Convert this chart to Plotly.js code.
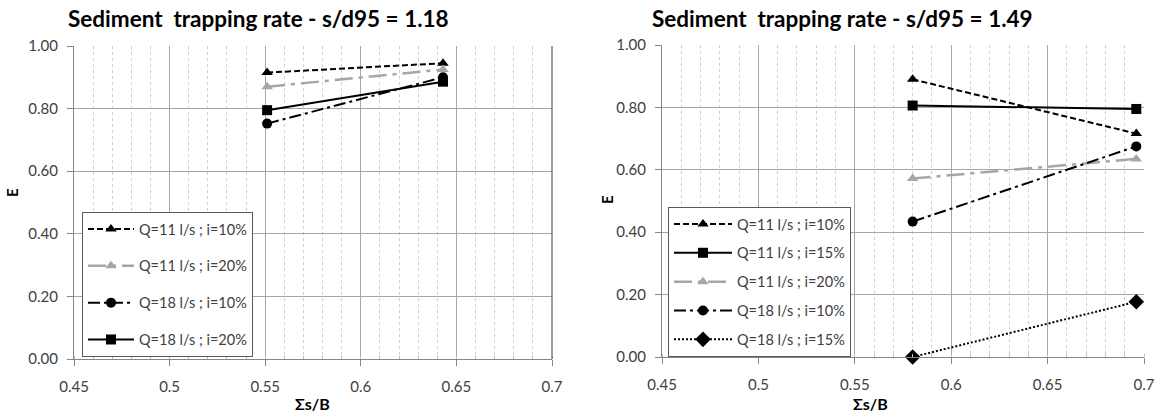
<!DOCTYPE html>
<html>
<head>
<meta charset="utf-8">
<script src="https://cdn.plot.ly/plotly-3.0.1.min.js"></script>
<style>html,body{margin:0;padding:0;background:#fff;}#chart{width:1160px;height:414px;}</style>
</head>
<body>
<div id="chart"></div>
<script>
// ---- Data ----
var leftTitle = "Sediment  trapping rate - s/d95 = 1.18";
var rightTitle = "Sediment  trapping rate - s/d95 = 1.49";
var xTitle = "Σs/B";
var yTitle = "E";

var leftX = [0.551, 0.643];
var leftNames = ["Q=11 l/s ; i=10%", "Q=11 l/s ; i=20%", "Q=18 l/s ; i=10%", "Q=18 l/s ; i=20%"];
var left_Q11_i10 = [0.915, 0.945];
var left_Q11_i20 = [0.870, 0.925];
var left_Q18_i10 = [0.752, 0.900];
var left_Q18_i20 = [0.795, 0.886];

var rightX = [0.580, 0.696];
var rightNames = ["Q=11 l/s ; i=10%", "Q=11 l/s ; i=15%", "Q=11 l/s ; i=20%", "Q=18 l/s ; i=10%", "Q=18 l/s ; i=15%"];
var right_Q11_i10 = [0.890, 0.716];
var right_Q11_i15 = [0.806, 0.795];
var right_Q11_i20 = [0.572, 0.635];
var right_Q18_i10 = [0.434, 0.675];
var right_Q18_i15 = [0.000, 0.177];

// ---- Styles ----
var FONT = "Lato, 'Liberation Sans', sans-serif";
var GREY = "#a6a6a6";
var styles = {
  q11i10: {line: {color: "#000", width: 2, dash: "6px,3px"}, marker: {symbol: "triangle-up", size: 10, color: "#000"}},
  q11i15: {line: {color: "#000", width: 2, dash: "solid"}, marker: {symbol: "square", size: 10, color: "#000"}},
  q11i20: {line: {color: GREY, width: 2.5, dash: "18px,6px,4px,6px"}, marker: {symbol: "triangle-up", size: 10, color: GREY}},
  q18i10: {line: {color: "#000", width: 2, dash: "12px,4px,3px,4px"}, marker: {symbol: "circle", size: 10, color: "#000"}},
  q18i15: {line: {color: "#000", width: 2, dash: "2px,2px"}, marker: {symbol: "diamond", size: 12, color: "#000"}},
  q18i20: {line: {color: "#000", width: 2, dash: "solid"}, marker: {symbol: "square", size: 10, color: "#000"}}
};

function tr(x, y, name, st, xa, ya, leg, grp) {
  return {
    type: "scatter", mode: "lines+markers", x: x, y: y, name: name,
    line: st.line, marker: st.marker, xaxis: xa, yaxis: ya,
    legend: leg, legendgroup: grp, cliponaxis: false, hoverinfo: "skip"
  };
}

var data = [
  tr(leftX, left_Q11_i10, leftNames[0], styles.q11i10, "x", "y", "legend", "l1"),
  tr(leftX, left_Q11_i20, leftNames[1], styles.q11i20, "x", "y", "legend", "l2"),
  tr(leftX, left_Q18_i10, leftNames[2], styles.q18i10, "x", "y", "legend", "l3"),
  tr(leftX, left_Q18_i20, leftNames[3], styles.q18i20, "x", "y", "legend", "l4"),
  tr(rightX, right_Q11_i10, rightNames[0], styles.q11i10, "x2", "y2", "legend2", "r1"),
  tr(rightX, right_Q11_i15, rightNames[1], styles.q11i15, "x2", "y2", "legend2", "r2"),
  tr(rightX, right_Q11_i20, rightNames[2], styles.q11i20, "x2", "y2", "legend2", "r3"),
  tr(rightX, right_Q18_i10, rightNames[3], styles.q18i10, "x2", "y2", "legend2", "r4"),
  tr(rightX, right_Q18_i15, rightNames[4], styles.q18i15, "x2", "y2", "legend2", "r5")
];

function xaxis(domain, anchor) {
  return {
    domain: domain, anchor: anchor, range: [0.45, 0.7], tick0: 0.45, dtick: 0.05,
    ticks: "outside", ticklen: 6, tickcolor: "#868686", ticklabelstandoff: 8,
    showline: true, linecolor: "#868686", linewidth: 1,
    showgrid: true, gridcolor: "#a6a6a6", gridwidth: 1, zeroline: false,
    tickfont: {family: FONT, size: 15, color: "#404040"},
    minor: {dtick: 0.01, showgrid: true, gridcolor: "#cfcfcf", griddash: "3px,3px", gridwidth: 1,
            ticks: "inside", ticklen: 3, tickcolor: "#bdbdbd"},
    fixedrange: true
  };
}
function yaxis(domain, anchor) {
  return {
    domain: domain, anchor: anchor, range: [0, 1], dtick: 0.2, tickformat: ".2f",
    ticks: "outside", ticklen: 6, tickcolor: "#868686", ticklabelstandoff: 6,
    showline: true, linecolor: "#868686", linewidth: 1,
    showgrid: true, gridcolor: "#a6a6a6", gridwidth: 1, zeroline: false,
    tickfont: {family: FONT, size: 15, color: "#404040"},
    fixedrange: true
  };
}

function legendCfg(x, y, gap, itemw) {
  return {
    x: x, y: y, xanchor: "left", yanchor: "top", xref: "paper", yref: "paper",
    bgcolor: "#fff", bordercolor: "#595959", borderwidth: 1,
    font: {family: FONT, size: 14.5, color: "#404040"},
    tracegroupgap: gap, itemwidth: itemw, traceorder: "grouped"
  };
}

var layout = {
  width: 1160, height: 414,
  margin: {l: 0, r: 0, t: 0, b: 0},
  paper_bgcolor: "#fff", plot_bgcolor: "#fff",
  showlegend: true,
  font: {family: FONT},
  xaxis: xaxis([74 / 1160, 552 / 1160], "y"),
  yaxis: yaxis([55 / 414, 368 / 414], "x"),
  xaxis2: xaxis([662 / 1160, 1144 / 1160], "y2"),
  yaxis2: yaxis([57 / 414, 369 / 414], "x2"),
  legend: legendCfg(82 / 1160, 1 - 212 / 414, 15, 46),
  legend2: legendCfg(668 / 1160, 1 - 207 / 414, 7, 58),
  shapes: [
    {type: "line", xref: "x domain", yref: "y domain", x0: 1, x1: 1, y0: 0, y1: 1,
     line: {color: "#404040", width: 1}}
  ],
  annotations: [
    {text: leftTitle, xref: "paper", yref: "paper", x: 258 / 1160, y: 1 - 19 / 414, xanchor: "center", yanchor: "middle",
     showarrow: false, font: {family: FONT, size: 22.5, color: "#000", weight: "bold"}},
    {text: rightTitle, xref: "paper", yref: "paper", x: 842 / 1160, y: 1 - 19 / 414, xanchor: "center", yanchor: "middle",
     showarrow: false, font: {family: FONT, size: 22.5, color: "#000", weight: "bold"}},
    {text: yTitle, xref: "paper", yref: "paper", x: 12 / 1160, y: 1 - 193 / 414, xanchor: "center", yanchor: "middle",
     textangle: -90, showarrow: false, font: {family: FONT, size: 15, color: "#000", weight: "bold"}},
    {text: yTitle, xref: "paper", yref: "paper", x: 607 / 1160, y: 1 - 200 / 414, xanchor: "center", yanchor: "middle",
     textangle: -90, showarrow: false, font: {family: FONT, size: 15, color: "#000", weight: "bold"}},
    {text: xTitle, xref: "paper", yref: "paper", x: 312 / 1160, y: 1 - 403 / 414, xanchor: "center", yanchor: "middle",
     showarrow: false, font: {family: FONT, size: 16, color: "#000", weight: "bold"}},
    {text: xTitle, xref: "paper", yref: "paper", x: 870 / 1160, y: 1 - 403 / 414, xanchor: "center", yanchor: "middle",
     showarrow: false, font: {family: FONT, size: 16, color: "#000", weight: "bold"}}
  ]
};

Plotly.newPlot("chart", data, layout, {displayModeBar: false, staticPlot: true});
</script>
</body>
</html>
